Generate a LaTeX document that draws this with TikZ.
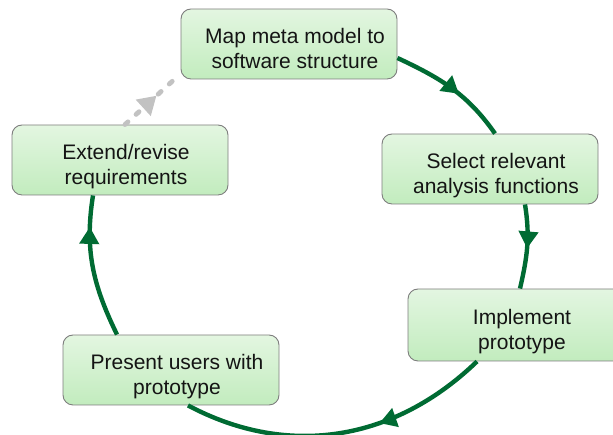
\documentclass[tikz,border=0pt]{standalone}
\usepackage{fontspec}
\setmainfont{Liberation Sans}
\usetikzlibrary{arrows.meta,decorations.markings}
\definecolor{flowgreen}{RGB}{0,107,51}
\definecolor{boxtop}{RGB}{227,246,225}
\definecolor{boxbot}{RGB}{194,236,190}
\definecolor{boxline}{RGB}{125,125,125}
\definecolor{dashgray}{RGB}{194,194,194}
\begin{document}
\begin{tikzpicture}[x=1pt,y=1pt,
  stepbox/.style={draw=boxline, line width=0.9pt, rounded corners=10pt,
    top color=boxtop, bottom color=boxbot,
    minimum width=216pt, minimum height=70pt, inner sep=0pt},
  boxtext/.style={align=center, font=\fontsize{21}{25.5}\selectfont,
    inner sep=0pt, text=black!92},
  flow/.style={draw=flowgreen, line width=4.4pt},
  midarrow/.style={postaction={decorate}, decoration={markings,
    mark=at position #1 with {\arrow[flowgreen]{Triangle[length=17pt,width=19pt]}}}},
  grayarrow/.style={postaction={decorate}, decoration={markings,
    mark=at position #1 with {\arrow[dashgray]{Triangle[length=18pt,width=21pt]}}}},
]
\useasboundingbox (0,0) rectangle (613,435);

% boxes
\node[stepbox] (map) at (289,391) {};
\node[stepbox] (select) at (490,266) {};
\node[stepbox, minimum height=72pt] (implement) at (516,110) {};
\node[stepbox] (present) at (171,65) {};
\node[stepbox] (extend) at (120,275) {};

% texts
\node[boxtext] (mapT) at ([xshift=6pt,yshift=-7pt]map.center)
  {\strut Map meta model to\\\strut software structure};
\node[boxtext] (selectT) at ([xshift=6pt,yshift=-7pt]select.center)
  {\strut Select relevant\\\strut analysis functions};
\node[boxtext] (implementT) at ([xshift=6pt,yshift=-7pt]implement.center)
  {\strut Implement\\\strut prototype};
\node[boxtext] (presentT) at ([xshift=6pt,yshift=-7pt]present.center)
  {\strut Present users with\\\strut prototype};
\node[boxtext] (extendT) at ([xshift=6pt,yshift=-7pt]extend.center)
  {\strut Extend/revise\\\strut requirements};

% connectors
\draw[flow, midarrow=0.57] ([yshift=-14pt]map.east)
  to[out=-25,in=125] ([xshift=5pt]select.north);
\draw[flow, midarrow=0.52] ([xshift=35pt]select.south)
  to[out=-81,in=77] ([xshift=4pt]implement.north);
\draw[flow, midarrow=0.37] ([xshift=-39pt]implement.south)
  to[out=-136,in=-28] ([xshift=17pt]present.south);
\draw[flow, midarrow=0.78] ([xshift=-54pt]present.north)
  to[out=116,in=-99] ([xshift=-27pt]extend.south);
\draw[draw=dashgray, line width=4.8pt, dash pattern=on 4pt off 11pt,
  line cap=round, grayarrow=0.6]
  ([xshift=5pt]extend.north) -- ([xshift=-3pt,yshift=3pt]map.south west);
\end{tikzpicture}
\end{document}
